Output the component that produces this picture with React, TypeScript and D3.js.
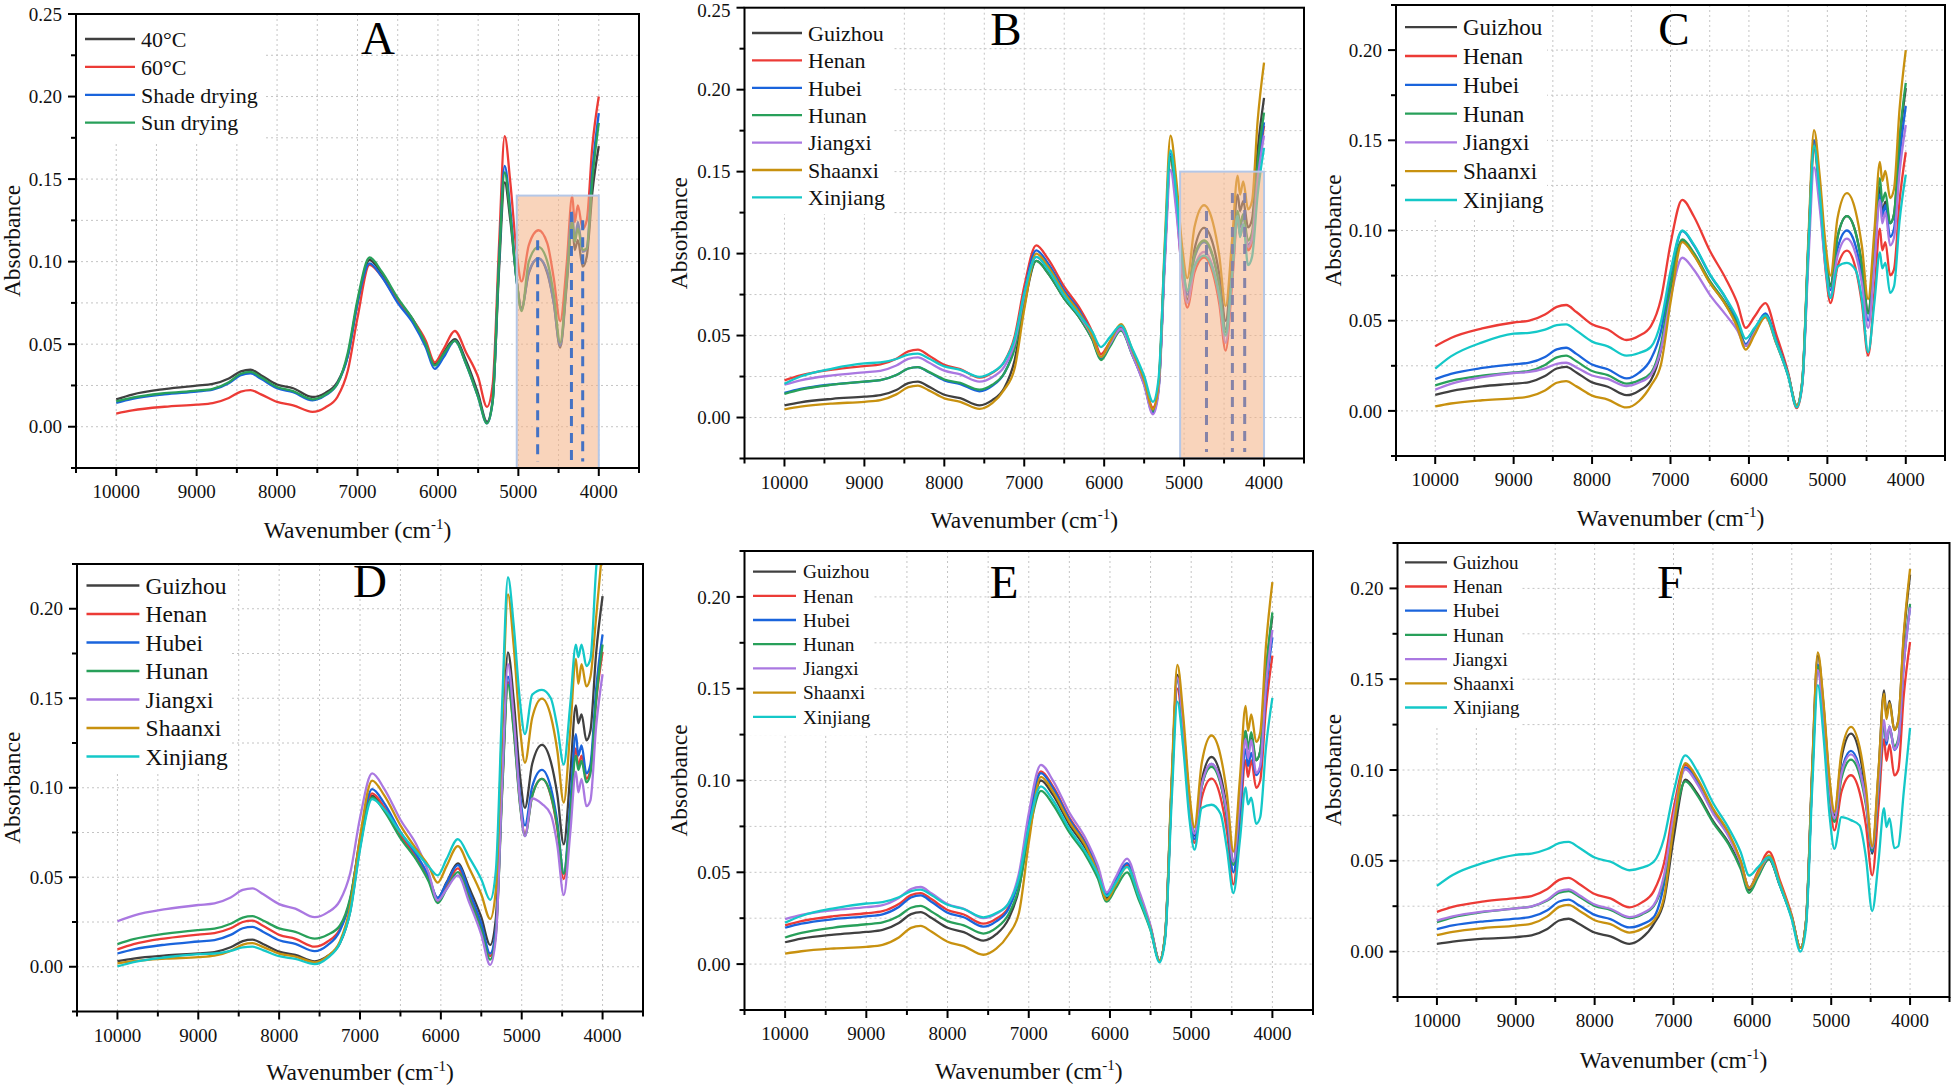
import React from "react";
import * as d3 from "d3";

// ---------- DATA ----------
const WAVENUMBERS = [10000, 9800, 9400, 9000, 8800, 8600, 8450, 8330, 8200, 8000, 7800, 7560, 7400, 7250, 7120, 7000, 6850, 6700, 6500, 6300, 6150, 6040, 5930, 5790, 5650, 5500, 5390, 5320, 5240, 5170, 5100, 5020, 4960, 4870, 4750, 4640, 4560, 4480, 4400, 4330, 4300, 4260, 4200, 4150, 4080, 4000];

const X_TICK_LABELS = [10000, 9000, 8000, 7000, 6000, 5000, 4000];
const Y_TICK_LABELS_AB = [0, 0.05, 0.1, 0.15, 0.2, 0.25];
const Y_TICK_LABELS_CF = [0, 0.05, 0.1, 0.15, 0.2];

const DRYING_NAMES = ["40°C", "60°C", "Shade drying", "Sun drying"];
const PROVINCES = ["Guizhou", "Henan", "Hubei", "Hunan", "Jiangxi", "Shaanxi", "Xinjiang"];
const COLORS = ["#404040", "#ec3b36", "#1a64dc", "#28a05a", "#aa78e1", "#c8910f", "#14c8c8"];

const A_40C = [.0166,.0195,.0228,.0249,.0259,.0292,.0335,.0345,.0312,.0256,.0233,.018,.0205,.027,.043,.075,.101,.093,.077,.064,.050,.038,.045,.053,.040,.020,.003,.016,.095,.148,.125,.088,.072,.093,.102,.093,.075,.048,.085,.124,.107,.113,.097,.103,.142,.170];
const A_60C = [.008,.0099,.0121,.0134,.0143,.0174,.0213,.0222,.0196,.015,.013,.009,.0117,.018,.034,.066,.098,.091,.076,.064,.052,.039,.047,.058,.045,.030,.012,.025,.11,.176,.148,.105,.088,.110,.119,.111,.090,.064,.098,.140,.124,.134,.120,.125,.170,.200];
const A_SHADE = [.0145,.0169,.0196,.0213,.0224,.0263,.0312,.0323,.029,.0233,.0209,.016,.019,.026,.043,.075,.099,.091,.075,.062,.048,.035,.042,.052,.038,.018,.002,.015,.10,.158,.131,.088,.071,.094,.102,.094,.075,.049,.088,.130,.112,.124,.106,.108,.155,.190];
const A_SUN = [.0153,.0176,.0203,.0219,.023,.027,.0321,.0332,.0299,.0241,.0216,.0166,.0194,.026,.045,.077,.1025,.094,.078,.064,.050,.037,.044,.052,.038,.018,.002,.015,.10,.154,.128,.088,.070,.100,.109,.100,.080,.051,.088,.124,.112,.120,.107,.108,.150,.184];

const B_GUIZHOU = [.0074,.0093,.0114,.0127,.0136,.0168,.021,.0219,.019,.0139,.0118,.0074,.0106,.018,.035,.068,.0955,.0879,.0726,.0602,.048,.036,.0441,.054,.039,.021,.004,.018,.100,.159,.133,.089,.072,.1026,.1157,.106,.0874,.059,.0975,.136,.126,.132,.116,.121,.163,.195];
const B_HENAN = [.0227,.0257,.0292,.0314,.0324,.0359,.0404,.0414,.038,.0321,.0295,.0244,.0273,.034,.0496,.080,.105,.0966,.0798,.0662,.0524,.0387,.046,.055,.0403,.0227,.006,.0197,.100,.158,.1307,.0852,.067,.0885,.0977,.088,.0693,.0408,.081,.121,.111,.117,.102,.107,.148,.178];
const B_HUBEI = [.015,.0174,.0202,.0219,.0228,.0259,.0299,.0308,.0278,.0227,.0204,.016,.0193,.027,.0435,.0758,.102,.0938,.0775,.0643,.050,.036,.0441,.054,.0387,.0203,.003,.0172,.101,.161,.135,.092,.075,.0974,.107,.098,.0805,.054,.0895,.125,.116,.123,.105,.110,.150,.180];
const B_HUNAN = [.0144,.017,.020,.0219,.0228,.0259,.0299,.0308,.028,.0232,.0211,.017,.020,.027,.0421,.0715,.0955,.0879,.0726,.0602,.0476,.035,.0431,.053,.0383,.0207,.004,.0179,.0995,.158,.134,.0936,.0775,.0989,.108,.0985,.080,.052,.089,.126,.118,.124,.108,.113,.155,.186];
const B_JIANGXI = [.020,.0227,.0257,.0276,.0285,.0317,.0358,.0367,.0337,.0286,.0263,.0219,.0246,.031,.0457,.0746,.098,.0902,.0745,.0617,.0494,.037,.0447,.054,.0384,.0197,.002,.0154,.0944,.151,.1267,.0862,.070,.0917,.101,.0916,.0733,.0456,.0843,.123,.112,.118,.104,.109,.145,.172];
const B_SHAANXI = [.005,.0066,.0085,.0096,.0106,.0141,.0185,.0195,.0167,.0117,.0096,.0053,.0088,.017,.030,.066,.100,.092,.076,.063,.050,.037,.046,.057,.0414,.0227,.005,.020,.1085,.172,.146,.1024,.085,.1162,.1295,.119,.0988,.068,.1078,.1475,.136,.144,.127,.132,.181,.2165];
const B_XINJIANG = [.0206,.025,.0299,.033,.0336,.0357,.0384,.039,.0362,.0312,.0291,.0248,.0276,.034,.0481,.0756,.098,.0902,.0745,.0617,.0524,.043,.0489,.056,.0421,.0254,.0096,.0234,.1045,.163,.1374,.0946,.0775,.0923,.0987,.0904,.0744,.050,.0865,.123,.110,.118,.093,.098,.136,.1645];

const C_GUIZHOU = [.0089,.011,.0136,.0151,.016,.0193,.0235,.0244,.0213,.0158,.0134,.0087,.0112,.017,.034,.067,.094,.0865,.0714,.0592,.0476,.036,.0437,.053,.0379,.0197,.0025,.0158,.094,.150,.126,.086,.070,.0966,.108,.099,.0815,.055,.0895,.124,.110,.116,.104,.109,.149,.179];
const C_HENAN = [.0358,.0404,.0457,.049,.050,.0534,.0577,.0587,.0548,.048,.0451,.0393,.0416,.047,.0624,.0925,.117,.1076,.0889,.0737,.060,.046,.0522,.0597,.0422,.0213,.0015,.0144,.0905,.145,.1194,.0768,.0597,.0801,.0888,.079,.0597,.0306,.0658,.101,.089,.0935,.0752,.0785,.116,.1434];
const C_HUBEI = [.0176,.0205,.0238,.0258,.0267,.0299,.0341,.035,.0316,.0257,.0231,.018,.0212,.0287,.0443,.0748,.0996,.0916,.0757,.0627,.0499,.037,.0447,.054,.0387,.0203,.003,.0162,.0941,.150,.125,.0836,.067,.090,.100,.0915,.075,.050,.085,.120,.108,.114,.0965,.101,.140,.169];
const C_HUNAN = [.0141,.0166,.0195,.0213,.0222,.0255,.0297,.0306,.0275,.0221,.0198,.0151,.0169,.021,.0373,.0691,.095,.0874,.0722,.0599,.0479,.036,.0437,.053,.038,.020,.003,.016,.0923,.147,.1236,.0846,.069,.0963,.108,.0988,.081,.054,.0915,.129,.116,.121,.104,.109,.151,.1818];
const C_JIANGXI = [.0118,.015,.0187,.021,.0216,.0236,.0261,.0267,.0241,.0196,.0177,.0138,.0157,.020,.0343,.0622,.0849,.0781,.0645,.0535,.0448,.036,.0432,.052,.0373,.0197,.003,.0149,.0848,.135,.1137,.0782,.064,.086,.0955,.0871,.0708,.046,.0815,.117,.104,.110,.0917,.096,.132,.1585];
const C_SHAANXI = [.0025,.0041,.0059,.007,.008,.0113,.0156,.0165,.0136,.0085,.0063,.0019,.0055,.014,.026,.060,.0936,.0861,.0711,.059,.0465,.034,.0421,.052,.0373,.0197,.003,.0167,.0976,.1556,.1314,.0911,.075,.107,.1207,.1107,.0914,.062,.100,.138,.1275,.133,.118,.123,.167,.200];
const C_XINJIANG = [.0234,.0302,.038,.0428,.0433,.0451,.0475,.048,.0445,.0384,.0358,.0306,.0321,.0355,.0497,.0774,.100,.092,.076,.063,.0515,.040,.0459,.053,.0377,.0193,.002,.015,.0919,.147,.1217,.0795,.0626,.080,.082,.078,.062,.0326,.0602,.0878,.079,.082,.0655,.069,.105,.131];

const D_GUIZHOU = [.0031,.0046,.0063,.0074,.0082,.0109,.0143,.0151,.0127,.0084,.0066,.003,.006,.013,.0312,.0666,.0955,.0879,.0726,.0602,.0493,.0384,.0471,.0577,.0441,.0277,.0122,.0269,.1135,.1756,.1496,.1062,.0888,.1134,.124,.1145,.0962,.0684,.1072,.146,.136,.141,.1265,.132,.175,.207];
const D_HENAN = [.0097,.0126,.0159,.018,.0188,.0215,.025,.0258,.0229,.0178,.0156,.0112,.0141,.021,.0377,.0703,.0969,.0891,.0736,.061,.0487,.0364,.0448,.055,.0403,.0227,.006,.0198,.1009,.159,.1335,.091,.074,.0957,.105,.0955,.077,.049,.0855,.122,.112,.118,.105,.110,.148,.176];
const D_HUBEI = [.0074,.0097,.0124,.0141,.0149,.0178,.0215,.0223,.0196,.0148,.0128,.0087,.0121,.020,.0374,.0715,.0992,.0913,.0754,.0625,.0505,.0384,.0467,.0568,.042,.0242,.0074,.0213,.1033,.162,.1371,.0956,.079,.1007,.110,.1001,.081,.052,.091,.130,.118,.1236,.108,.113,.155,.1856];
const D_HUNAN = [.0126,.0154,.0185,.0205,.0213,.024,.0275,.0283,.0258,.0214,.0195,.0157,.0179,.0229,.0387,.0695,.0946,.087,.0719,.0596,.0476,.0355,.0433,.0529,.0382,.0206,.004,.0178,.0992,.1575,.1322,.0899,.073,.0954,.105,.096,.0785,.052,.085,.118,.110,.115,.103,.108,.149,.180];
const D_JIANGXI = [.0254,.0286,.0322,.0345,.0354,.0387,.0429,.0438,.0406,.035,.0325,.0277,.0304,.0368,.0525,.0831,.108,.0994,.0821,.068,.0525,.037,.0433,.051,.036,.018,.001,.0161,.1052,.169,.1402,.0922,.073,.094,.091,.085,.068,.040,.0745,.109,.0975,.105,.0897,.093,.134,.1634];
const D_SHAANXI = [.0019,.0031,.0045,.0054,.0062,.0089,.0124,.0132,.0111,.0073,.0057,.0025,.006,.014,.0338,.0725,.104,.0957,.079,.0655,.0563,.047,.0562,.0674,.0552,.0405,.0267,.043,.1391,.208,.1798,.1328,.114,.1391,.1498,.140,.1208,.0917,.1319,.172,.158,.169,.1566,.162,.195,.235];
const D_XINJIANG = [.0002,.0026,.0053,.007,.0074,.0089,.0108,.0112,.0093,.0059,.0044,.0015,.005,.013,.0307,.0654,.0936,.088,.075,.064,.056,.051,.0601,.0713,.0611,.0489,.0374,.0536,.149,.2176,.1913,.1475,.130,.152,.1547,.150,.134,.113,.1465,.180,.173,.180,.168,.172,.222,.26];

const E_GUIZHOU = [.0119,.0139,.0161,.0175,.0186,.0224,.0272,.0283,.0252,.0198,.0174,.0128,.0163,.0245,.0411,.0736,.100,.092,.076,.063,.0495,.036,.0441,.054,.0384,.0197,.002,.016,.0984,.1575,.1313,.0875,.070,.100,.1128,.1031,.0843,.0557,.0914,.127,.118,.123,.111,.116,.158,.1896];
const E_HENAN = [.0211,.0234,.0261,.0277,.0288,.0327,.0376,.0387,.0354,.0295,.027,.022,.0247,.031,.0473,.0791,.105,.0966,.0798,.0662,.0521,.038,.0452,.054,.0384,.0197,.002,.0153,.0938,.150,.1248,.0828,.066,.0905,.101,.0912,.0722,.0434,.0772,.111,.102,.111,.096,.100,.139,.168];
const E_HUBEI = [.0198,.022,.0245,.026,.0271,.0311,.0363,.0374,.034,.028,.0255,.0204,.0233,.030,.0463,.0781,.104,.0957,.079,.0655,.0518,.038,.0457,.055,.0391,.020,.002,.0158,.0969,.155,.1289,.0854,.068,.0967,.109,.099,.0795,.050,.0835,.117,.108,.115,.103,.107,.148,.178];
const E_HUNAN = [.0145,.017,.0199,.0217,.0227,.0262,.0307,.0317,.0287,.0234,.0211,.0166,.0197,.027,.0418,.0707,.0943,.0868,.0717,.0594,.0467,.034,.0412,.050,.0356,.0183,.002,.0158,.0969,.155,.1301,.0886,.072,.0969,.1075,.0984,.0808,.054,.0905,.127,.117,.1264,.111,.116,.159,.1915];
const E_JIANGXI = [.0245,.0268,.0294,.031,.0321,.036,.0409,.042,.0386,.0327,.0301,.025,.0274,.033,.0496,.0821,.1085,.0998,.0825,.0684,.0537,.039,.0473,.0575,.0409,.0209,.002,.0159,.0975,.156,.1305,.088,.071,.0976,.109,.0999,.0824,.0557,.0892,.1226,.112,.122,.104,.108,.151,.182];
const E_SHAANXI = [.0057,.007,.0085,.0094,.0105,.0145,.0197,.0208,.0177,.0122,.0098,.0051,.0084,.016,.028,.066,.102,.0938,.0775,.0643,.0497,.035,.0431,.053,.0377,.0193,.002,.0165,.1018,.163,.1365,.0922,.0745,.1095,.1245,.1138,.0929,.0613,.101,.1406,.127,.136,.121,.126,.173,.208];
const E_XINJIANG = [.0226,.0262,.0304,.033,.0338,.0364,.0398,.0406,.0376,.0323,.030,.0255,.0278,.033,.047,.0745,.0968,.0891,.0736,.061,.049,.037,.0442,.053,.0374,.0187,.001,.0138,.089,.143,.1188,.0784,.0623,.085,.0868,.082,.0628,.0387,.0675,.0962,.087,.0906,.0764,.080,.1176,.145];

const F_GUIZHOU = [.0042,.0055,.0071,.008,.009,.0125,.0171,.0181,.0153,.0105,.0084,.0042,.0075,.0152,.028,.062,.0947,.0871,.072,.0597,.0468,.034,.0417,.051,.0363,.0187,.002,.0165,.1018,.163,.1366,.0926,.075,.1065,.120,.1088,.087,.054,.0989,.1438,.130,.138,.122,.127,.173,.2076];
const F_HENAN = [.0219,.0246,.0276,.0295,.0306,.0345,.0395,.0406,.0374,.0317,.0293,.0244,.0271,.0333,.0486,.0785,.1029,.0947,.0782,.0648,.050,.0352,.0441,.055,.0391,.020,.002,.016,.0981,.157,.1299,.0848,.0667,.088,.0971,.0877,.0696,.042,.0795,.117,.105,.114,.097,.100,.141,.1705];
const F_HUBEI = [.0124,.0144,.0167,.0181,.0192,.0228,.0276,.0286,.0255,.0202,.0179,.0133,.015,.019,.0372,.0726,.1015,.0934,.0771,.0639,.0495,.035,.0427,.052,.037,.019,.002,.016,.0987,.158,.1322,.0892,.072,.099,.1105,.101,.0828,.055,.090,.125,.114,.124,.111,.115,.158,.190];
const F_HUNAN = [.0162,.0189,.0219,.0238,.0248,.0281,.0324,.0333,.0303,.0252,.023,.0185,.0205,.025,.0401,.0697,.0937,.0862,.0712,.059,.0457,.0324,.0408,.051,.0363,.0187,.002,.016,.0981,.157,.1313,.0885,.0714,.0954,.1057,.0973,.0809,.056,.0904,.1248,.116,.123,.113,.117,.160,.1914];
const F_JIANGXI = [.0171,.0194,.0221,.0238,.0249,.0285,.0333,.0343,.0312,.0259,.0236,.019,.021,.0257,.0421,.0743,.1004,.0924,.0763,.0633,.0491,.035,.0427,.052,.037,.019,.002,.0158,.0969,.155,.1305,.0896,.0733,.098,.1086,.0998,.0828,.057,.0923,.1276,.116,.124,.1114,.116,.158,.1895];
const F_SHAANXI = [.0091,.0109,.013,.0143,.0154,.0194,.0246,.0257,.0227,.0173,.0151,.0105,.0125,.017,.030,.068,.1038,.0955,.0789,.0654,.0502,.035,.0431,.053,.0377,.0193,.002,.0167,.1029,.1648,.1385,.0946,.077,.1098,.1238,.1126,.0909,.058,.100,.142,.128,.137,.122,.127,.175,.2108];
const F_XINJIANG = [.0362,.0422,.049,.0533,.054,.0565,.0597,.0604,.0573,.0518,.0495,.0448,.0462,.0495,.0624,.0875,.108,.0994,.082,.068,.055,.0419,.0464,.052,.0364,.0177,.000,.0132,.091,.1467,.1197,.0746,.0566,.074,.0724,.0695,.052,.0223,.050,.079,.0686,.0733,.057,.058,.088,.1232];

// highlighted regions (wavenumber range and top absorbance) and marker lines
const A_BAND = [5020, 4000, 0.14];
const A_MARKERS = [[4760, 0.113], [4340, 0.13], [4200, 0.125]];
const B_BAND = [5050, 4000, 0.15];
const B_MARKERS = [[4720, 0.126], [4396, 0.137], [4242, 0.137]];

// ---------- LAYOUT ----------
const FONT = "'Liberation Serif', 'Times New Roman', Times, serif";

type Series = { name: string; color: string; values: number[] };
type Cfg = {
  letter: string; left: number; right: number; top: number; bottom: number; yMax: number; yLabels: number[];
  series: Series[]; lgX0: number; lgX1: number; lgTx: number; lgY0: number; lgDy: number; lgFs: number;
  boxR: number; boxB: number; letterX: number; letterY: number; yTitleX: number; xTitleY: number;
  band?: number[]; markers?: number[][]; markerColor?: string;
};

const mk = (names: string[], arrs: number[][]): Series[] =>
  arrs.map((values, i) => ({ name: names[i], color: COLORS[i], values }));

const PANELS: Cfg[] = [
  { letter: "A", left: 76, right: 639, top: 14, bottom: 468, yMax: 0.25, yLabels: Y_TICK_LABELS_AB,
    series: mk(DRYING_NAMES, [A_40C, A_60C, A_SHADE, A_SUN]),
    lgX0: 85, lgX1: 135, lgTx: 141, lgY0: 39, lgDy: 27.9, lgFs: 22, boxR: 262, boxB: 140,
    letterX: 378, letterY: 54, yTitleX: 20, xTitleY: 538, band: A_BAND, markers: A_MARKERS, markerColor: "#4472c4" },
  { letter: "B", left: 744.5, right: 1304, top: 7.7, bottom: 458.5, yMax: 0.25, yLabels: Y_TICK_LABELS_AB,
    series: mk(PROVINCES, [B_GUIZHOU, B_HENAN, B_HUBEI, B_HUNAN, B_JIANGXI, B_SHAANXI, B_XINJIANG]),
    lgX0: 752, lgX1: 802, lgTx: 808, lgY0: 33, lgDy: 27.4, lgFs: 22, boxR: 892, boxB: 213,
    letterX: 1006, letterY: 45, yTitleX: 687, xTitleY: 528, band: B_BAND, markers: B_MARKERS, markerColor: "#8583a8" },
  { letter: "C", left: 1396, right: 1945, top: 5, bottom: 456, yMax: 0.225, yLabels: Y_TICK_LABELS_CF,
    series: mk(PROVINCES, [C_GUIZHOU, C_HENAN, C_HUBEI, C_HUNAN, C_JIANGXI, C_SHAANXI, C_XINJIANG]),
    lgX0: 1405, lgX1: 1457, lgTx: 1463, lgY0: 27.2, lgDy: 28.8, lgFs: 23, boxR: 1546, boxB: 216,
    letterX: 1674, letterY: 45, yTitleX: 1341, xTitleY: 526 },
  { letter: "D", left: 77, right: 643, top: 564, bottom: 1011.5, yMax: 0.225, yLabels: Y_TICK_LABELS_CF,
    series: mk(PROVINCES, [D_GUIZHOU, D_HENAN, D_HUBEI, D_HUNAN, D_JIANGXI, D_SHAANXI, D_XINJIANG]),
    lgX0: 86.5, lgX1: 139.4, lgTx: 145.6, lgY0: 585.5, lgDy: 28.5, lgFs: 23.5, boxR: 231, boxB: 773,
    letterX: 370, letterY: 597, yTitleX: 20, xTitleY: 1080 },
  { letter: "E", left: 744.5, right: 1313, top: 551, bottom: 1010, yMax: 0.225, yLabels: Y_TICK_LABELS_CF,
    series: mk(PROVINCES, [E_GUIZHOU, E_HENAN, E_HUBEI, E_HUNAN, E_JIANGXI, E_SHAANXI, E_XINJIANG]),
    lgX0: 753, lgX1: 796, lgTx: 803, lgY0: 571.6, lgDy: 24.2, lgFs: 19.3, boxR: 871, boxB: 734,
    letterX: 1004, letterY: 597.6, yTitleX: 687, xTitleY: 1079 },
  { letter: "F", left: 1397.5, right: 1949.5, top: 543, bottom: 997, yMax: 0.225, yLabels: Y_TICK_LABELS_CF,
    series: mk(PROVINCES, [F_GUIZHOU, F_HENAN, F_HUBEI, F_HUNAN, F_JIANGXI, F_SHAANXI, F_XINJIANG]),
    lgX0: 1405, lgX1: 1447, lgTx: 1453, lgY0: 562.3, lgDy: 24.2, lgFs: 19, boxR: 1521, boxB: 725,
    letterX: 1670, letterY: 597.6, yTitleX: 1341, xTitleY: 1068 },
];

function Panel({ c }: { c: Cfg }) {
  const x = d3.scaleLinear().domain([10500, 3500]).range([c.left, c.right]);
  const y = d3.scaleLinear().domain([-0.025, c.yMax]).range([c.bottom, c.top]);
  const line = d3
    .line<number>()
    .x((_, i) => x(WAVENUMBERS[i]))
    .y((d) => y(d))
    .curve(d3.curveMonotoneX);
  const xTicks = d3.range(3500, 10501, 500);
  const nY = Math.round((c.yMax + 0.025) / 0.025);
  const yTicks = d3.range(0, nY + 1).map((k) => -0.025 + k * 0.025);
  const clipId = "clip" + c.letter;
  const isMajorX = (w: number) => X_TICK_LABELS.includes(w);
  const isMajorY = (v: number) => c.yLabels.some((l) => Math.abs(l - v) < 1e-6);

  return (
    <g>
      <defs>
        <clipPath id={clipId}>
          <rect x={c.left} y={c.top} width={c.right - c.left} height={c.bottom - c.top} />
        </clipPath>
      </defs>
      {/* grid */}
      <g stroke="#c4c4c4" strokeWidth={1} strokeDasharray="2,3">
        {xTicks.filter((w) => w > 3500 && w < 10500).map((w) => (
          <line key={"gx" + w} x1={x(w)} x2={x(w)} y1={c.top} y2={c.bottom} />
        ))}
        {yTicks.filter((v) => v > -0.02 && v < c.yMax - 0.001).map((v) => (
          <line key={"gy" + v} x1={c.left} x2={c.right} y1={y(v)} y2={y(v)} />
        ))}
      </g>
      {/* legend background */}
      <rect x={c.left + 1} y={c.top + 1} width={c.boxR - c.left} height={c.boxB - c.top} fill="#ffffff" />
      {/* curves */}
      <g clipPath={`url(#${clipId})`} fill="none" strokeWidth={2.3} strokeLinejoin="round">
        {c.series.map((s) => (
          <path key={s.name} d={line(s.values) || ""} stroke={s.color} />
        ))}
      </g>
      {/* highlighted band */}
      {c.band && (
        <g>
          <rect
            x={x(c.band[0])}
            y={y(c.band[2])}
            width={x(c.band[1]) - x(c.band[0])}
            height={c.bottom - y(c.band[2])}
            fill="#f4b183"
            fillOpacity={0.55}
            stroke="#b4c7e7"
            strokeWidth={2}
          />
          {c.markers!.map((m, i) => (
            <line
              key={i}
              x1={x(m[0])}
              x2={x(m[0])}
              y1={y(m[1])}
              y2={y(-0.021)}
              stroke={c.markerColor}
              strokeWidth={3}
              strokeDasharray="10,7"
            />
          ))}
        </g>
      )}
      {/* legend */}
      <g fontFamily={FONT} fontSize={c.lgFs}>
        {c.series.map((s, i) => (
          <g key={s.name}>
            <line x1={c.lgX0} x2={c.lgX1} y1={c.lgY0 + i * c.lgDy} y2={c.lgY0 + i * c.lgDy} stroke={s.color} strokeWidth={2.3} />
            <text x={c.lgTx} y={c.lgY0 + i * c.lgDy} dy="0.35em" fill="#111">
              {s.name}
            </text>
          </g>
        ))}
      </g>
      {/* frame */}
      <rect x={c.left} y={c.top} width={c.right - c.left} height={c.bottom - c.top} fill="none" stroke="#000" strokeWidth={2} />
      {/* ticks */}
      <g stroke="#000" strokeWidth={2}>
        {xTicks.map((w) => (
          <line key={"tx" + w} x1={x(w)} x2={x(w)} y1={c.bottom} y2={c.bottom + (isMajorX(w) ? 8 : 5)} />
        ))}
        {yTicks.map((v) => (
          <line key={"ty" + v} x1={c.left} x2={c.left - (isMajorY(v) ? 8 : 5)} y1={y(v)} y2={y(v)} />
        ))}
      </g>
      <g fontFamily={FONT} fontSize={19} fill="#111">
        {X_TICK_LABELS.map((w) => (
          <text key={"lx" + w} x={x(w)} y={c.bottom + 30} textAnchor="middle">
            {w}
          </text>
        ))}
        {c.yLabels.map((v) => (
          <text key={"ly" + v} x={c.left - 14} y={Math.max(y(v), 10)} dy="0.35em" textAnchor="end">
            {v.toFixed(2)}
          </text>
        ))}
      </g>
      {/* titles */}
      <text
        fontFamily={FONT}
        fontSize={23.5}
        fill="#111"
        textAnchor="middle"
        transform={`translate(${c.yTitleX},${(c.top + c.bottom) / 2}) rotate(-90)`}
      >
        Absorbance
      </text>
      <text fontFamily={FONT} fontSize={23.5} fill="#111" textAnchor="middle" x={(c.left + c.right) / 2} y={c.xTitleY}>
        Wavenumber (cm
        <tspan fontSize={15} dy={-9}>
          -1
        </tspan>
        <tspan dy={9}>)</tspan>
      </text>
      <text fontFamily={FONT} fontSize={47} fill="#000" textAnchor="middle" x={c.letterX} y={c.letterY}>
        {c.letter}
      </text>
    </g>
  );
}

export default function App() {
  return (
    <svg
      width={1951}
      height={1086}
      viewBox="0 0 1951 1086"
      style={{ position: "absolute", left: 0, top: 0, background: "#fff" }}
    >
      <rect x={0} y={0} width={1951} height={1086} fill="#fff" />
      {PANELS.map((p) => (
        <Panel key={p.letter} c={p} />
      ))}
    </svg>
  );
}
